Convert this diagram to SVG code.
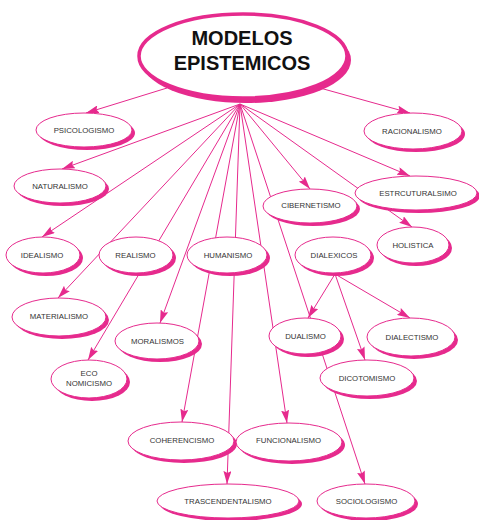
<svg xmlns="http://www.w3.org/2000/svg" width="479" height="520" viewBox="0 0 479 520">
  <style>
    .edge { stroke: #e62a8d; stroke-width: 1; fill: none; }
    .arrow { marker-end: url(#head); }
    .shadow { fill: #e62a8d; }
    .body { fill: #ffffff; stroke: #e62a8d; stroke-width: 1; }
    .label { font-family: "Liberation Sans", Arial, sans-serif; font-size: 7.8px; fill: #333333; text-anchor: middle; }
    .title { font-family: "Liberation Sans", Arial, sans-serif; font-size: 20px; font-weight: bold; fill: #111111; text-anchor: middle; }
  </style>
  <defs>
    <marker id="head" markerUnits="userSpaceOnUse" markerWidth="14" markerHeight="8" refX="13" refY="4" orient="auto">
      <path d="M0,0 L13,4 L0,8 L2,4 z" fill="#e62a8d"/>
    </marker>
  </defs>
  <rect width="479" height="520" fill="#ffffff"/>

  <!-- connectors -->
  <g id="connectors">
    <line class="edge arrow" x1="167" y1="88" x2="86" y2="113"/>
    <line class="edge arrow" x1="320" y1="88" x2="410" y2="113"/>
    <line class="edge arrow" x1="240" y1="104" x2="62" y2="169"/>
    <line class="edge arrow" x1="240" y1="104" x2="42" y2="237"/>
    <line class="edge arrow" x1="240" y1="104" x2="58" y2="298"/>
    <line class="edge arrow" x1="240" y1="104" x2="88" y2="360"/>
    <line class="edge arrow" x1="240" y1="104" x2="160" y2="323"/>
    <line class="edge arrow" x1="240" y1="104" x2="182" y2="422"/>
    <line class="edge arrow" x1="240" y1="104" x2="227" y2="484"/>
    <line class="edge arrow" x1="240" y1="104" x2="287" y2="423"/>
    <line class="edge arrow" x1="240" y1="104" x2="365" y2="484"/>
    <line class="edge arrow" x1="240" y1="104" x2="310" y2="189"/>
    <line class="edge arrow" x1="240" y1="104" x2="410" y2="176"/>
    <line class="edge arrow" x1="240" y1="104" x2="412" y2="227"/>
    <line class="edge arrow" x1="335" y1="274" x2="308" y2="318"/>
    <line class="edge arrow" x1="335" y1="274" x2="410" y2="318"/>
    <line class="edge arrow" x1="335" y1="274" x2="365" y2="360"/>
  </g>

  <!-- central node -->
  <g id="modelos-epistemicos">
    <ellipse class="shadow" cx="246" cy="60" rx="105" ry="43"/>
    <ellipse cx="243" cy="56" rx="104" ry="42" fill="#ffffff" stroke="#e62a8d" stroke-width="3.5"/>
    <text class="title" x="242" y="45">MODELOS</text>
    <text class="title" x="242" y="70">EPISTEMICOS</text>
  </g>

  <g id="psicologismo">
    <ellipse class="shadow" cx="87" cy="133" rx="48" ry="17"/>
    <ellipse class="body" cx="84" cy="130" rx="48" ry="17"/>
    <text class="label" x="84" y="133">PSICOLOGISMO</text>
  </g>
  <g id="racionalismo">
    <ellipse class="shadow" cx="416" cy="134" rx="49" ry="18"/>
    <ellipse class="body" cx="413" cy="131" rx="49" ry="18"/>
    <text class="label" x="412" y="134">RACIONALISMO</text>
  </g>
  <g id="naturalismo">
    <ellipse class="shadow" cx="63" cy="189" rx="46" ry="17"/>
    <ellipse class="body" cx="60" cy="186" rx="46" ry="17"/>
    <text class="label" x="60" y="189">NATURALISMO</text>
  </g>
  <g id="estrcturalsimo">
    <ellipse class="shadow" cx="419" cy="196" rx="61" ry="17"/>
    <ellipse class="body" cx="416" cy="193" rx="61" ry="17"/>
    <text class="label" x="418" y="196">ESTRCUTURALSIMO</text>
  </g>
  <g id="cibernetismo">
    <ellipse class="shadow" cx="313" cy="209" rx="47" ry="17"/>
    <ellipse class="body" cx="310" cy="206" rx="47" ry="17"/>
    <text class="label" x="311" y="208">CIBERNETISMO</text>
  </g>
  <g id="holistica">
    <ellipse class="shadow" cx="416" cy="248" rx="36" ry="18"/>
    <ellipse class="body" cx="413" cy="245" rx="36" ry="18"/>
    <text class="label" x="413" y="248">HOLISTICA</text>
  </g>
  <g id="idealismo">
    <ellipse class="shadow" cx="46" cy="258" rx="37" ry="18"/>
    <ellipse class="body" cx="43" cy="255" rx="37" ry="18"/>
    <text class="label" x="42" y="258">IDEALISMO</text>
  </g>
  <g id="realismo">
    <ellipse class="shadow" cx="139" cy="258" rx="37" ry="18"/>
    <ellipse class="body" cx="136" cy="255" rx="37" ry="18"/>
    <text class="label" x="135.5" y="258">REALISMO</text>
  </g>
  <g id="humanismo">
    <ellipse class="shadow" cx="230" cy="258" rx="40" ry="18"/>
    <ellipse class="body" cx="227" cy="255" rx="40" ry="18"/>
    <text class="label" x="228" y="258">HUMANISMO</text>
  </g>
  <g id="dialexicos">
    <ellipse class="shadow" cx="336" cy="258" rx="38" ry="18"/>
    <ellipse class="body" cx="333" cy="255" rx="38" ry="18"/>
    <text class="label" x="334" y="258">DIALEXICOS</text>
  </g>
  <g id="materialismo">
    <ellipse class="shadow" cx="62" cy="320" rx="47" ry="19"/>
    <ellipse class="body" cx="59" cy="317" rx="47" ry="19"/>
    <text class="label" x="59" y="319">MATERIALISMO</text>
  </g>
  <g id="moralismos">
    <ellipse class="shadow" cx="160" cy="344" rx="42" ry="18"/>
    <ellipse class="body" cx="157" cy="341" rx="42" ry="18"/>
    <text class="label" x="157.5" y="344">MORALISMOS</text>
  </g>
  <g id="dualismo">
    <ellipse class="shadow" cx="308" cy="339" rx="36" ry="18"/>
    <ellipse class="body" cx="305" cy="336" rx="36" ry="18"/>
    <text class="label" x="305.5" y="339">DUALISMO</text>
  </g>
  <g id="dialectismo">
    <ellipse class="shadow" cx="414" cy="340" rx="44" ry="19"/>
    <ellipse class="body" cx="411" cy="337" rx="44" ry="19"/>
    <text class="label" x="412" y="340">DIALECTISMO</text>
  </g>
  <g id="economicismo">
    <ellipse class="shadow" cx="92" cy="382" rx="38" ry="19"/>
    <ellipse class="body" cx="89" cy="379" rx="38" ry="19"/>
    <text class="label" x="89" y="376">ECO</text>
    <text class="label" x="89" y="386">NOMICISMO</text>
  </g>
  <g id="dicotomismo">
    <ellipse class="shadow" cx="370" cy="381" rx="47" ry="18"/>
    <ellipse class="body" cx="367" cy="378" rx="47" ry="18"/>
    <text class="label" x="367" y="381">DICOTOMISMO</text>
  </g>
  <g id="coherencismo">
    <ellipse class="shadow" cx="184" cy="444" rx="53" ry="19"/>
    <ellipse class="body" cx="181" cy="441" rx="53" ry="19"/>
    <text class="label" x="182" y="443">COHERENCISMO</text>
  </g>
  <g id="funcionalismo">
    <ellipse class="shadow" cx="292" cy="445" rx="53" ry="19"/>
    <ellipse class="body" cx="289" cy="442" rx="53" ry="19"/>
    <text class="label" x="288.5" y="443">FUNCIONALISMO</text>
  </g>
  <g id="trascendentalismo">
    <ellipse class="shadow" cx="231" cy="504" rx="71" ry="17"/>
    <ellipse class="body" cx="228" cy="501" rx="71" ry="17"/>
    <text class="label" x="228" y="504">TRASCENDENTALISMO</text>
  </g>
  <g id="sociologismo">
    <ellipse class="shadow" cx="369" cy="504" rx="49" ry="17"/>
    <ellipse class="body" cx="366" cy="501" rx="49" ry="17"/>
    <text class="label" x="366.5" y="504">SOCIOLOGISMO</text>
  </g>
</svg>
